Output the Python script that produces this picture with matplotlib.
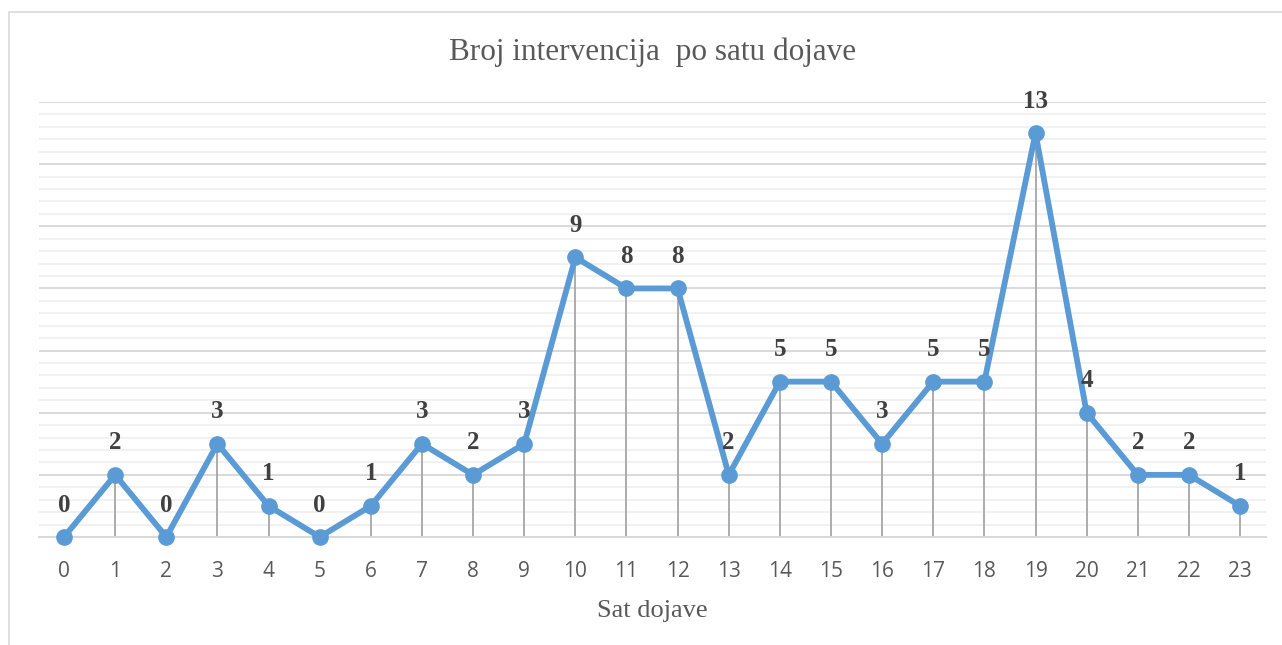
import numpy as np
import matplotlib.pyplot as plt
from matplotlib.patches import Rectangle
from matplotlib.ticker import MultipleLocator, FixedLocator

hours = list(range(24))
counts = [0, 2, 0, 3, 1, 0, 1, 3, 2, 3, 9, 8, 8, 2, 5, 5, 3, 5, 5, 13, 4, 2, 2, 1]
title = "Broj intervencija  po satu dojave"
xlabel = "Sat dojave"

blue = "#5B9BD5"
grey_txt = "#595959"

fig = plt.figure(figsize=(12.82, 6.45), dpi=100)
# chart frame (cut off on right and bottom in the original)
fig.patches.append(Rectangle((9 / 1282, -0.05), 1.1, 1 - 12 / 645 + 0.05,
                             transform=fig.transFigure, fill=False,
                             edgecolor="#D9D9D9", linewidth=1.2))

ax = fig.add_axes([38.5 / 1282, 1 - 537 / 645, (1265.6 - 38.5) / 1282, (537 - 102) / 645])

ax.set_xlim(-0.5, 23.5)
ax.set_ylim(0, 14)
ax.yaxis.set_major_locator(MultipleLocator(2))
minor = [v for v in np.arange(0, 14.01, 0.4) if abs(v / 2 - round(v / 2)) > 1e-6]
ax.yaxis.set_minor_locator(FixedLocator(minor))
ax.grid(axis="y", which="major", color="#D9D9D9", linewidth=1.4)
ax.grid(axis="y", which="minor", color="#F0F0F0", linewidth=1.3)
ax.set_axisbelow(True)

# drop lines
ax.vlines(hours, 0, counts, color="#A6A6A6", linewidth=1.3, zorder=2)
ax.plot(hours, counts, color=blue, linewidth=4.2, marker="o", markersize=11,
        solid_capstyle="round", zorder=3, clip_on=False)

for h, c in zip(hours, counts):
    ax.annotate(str(c), (h, c), xytext=(0, 23), textcoords="offset points",
                ha="center", va="center", fontsize=18, fontweight="bold",
                family="Liberation Serif", color="#404040")

for s in ["top", "right", "left"]:
    ax.spines[s].set_visible(False)
ax.spines["bottom"].set_color("#D9D9D9")
ax.spines["bottom"].set_linewidth(1.4)

ax.set_xticks(hours)
ax.set_xticklabels([str(h) for h in hours], fontsize=15, color=grey_txt, family="Open Sans")
ax.tick_params(axis="x", length=0, pad=17)
ax.tick_params(axis="y", which="both", length=0, labelleft=False)

ax.set_xlabel(xlabel, fontsize=19, color=grey_txt, family="Liberation Serif", labelpad=13)
fig.text(653 / 1282, 1 - 52 / 645, title, ha="center", va="center",
         fontsize=22.5, color=grey_txt, family="Liberation Serif")

fig.savefig("out.png", dpi=100)
